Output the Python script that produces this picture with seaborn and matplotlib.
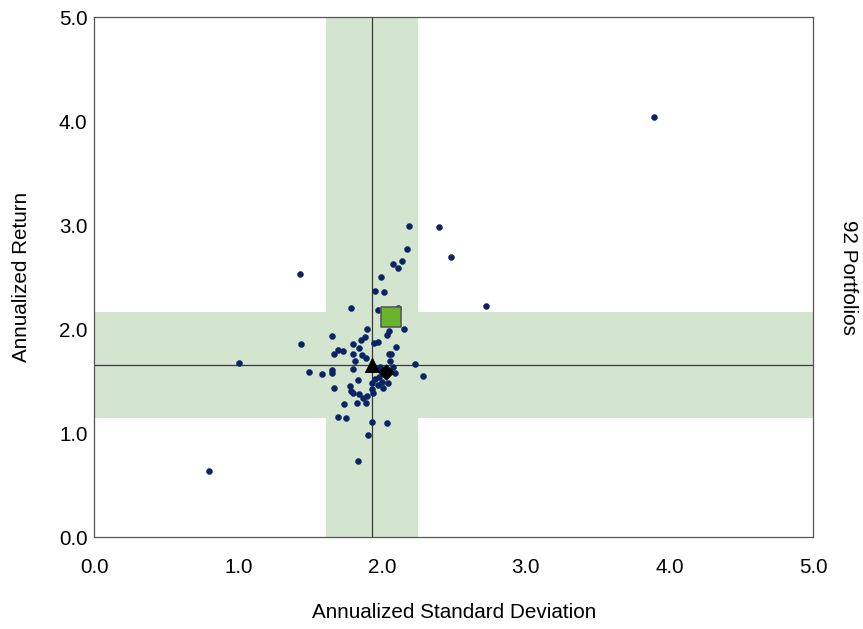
import numpy as np
import pandas as pd
import matplotlib
matplotlib.use("Agg")
import matplotlib.pyplot as plt
import seaborn as sns

# portfolio points (std dev, return)
std_dev = [3.890, 2.188, 2.399, 2.172, 2.483, 2.141, 2.074, 2.113, 1.430, 1.990,
           1.953, 2.011, 2.725, 1.785, 1.969, 2.109, 1.899, 2.046, 2.155, 2.034,
           1.655, 1.885, 1.853, 1.439, 1.797, 1.946, 1.974, 2.099, 1.839, 1.692,
           1.732, 1.667, 1.797, 1.858, 1.888, 2.048, 2.062, 1.809, 2.055, 1.008,
           2.230, 2.076, 1.799, 1.983, 1.969, 1.494, 1.585, 1.655, 1.655, 2.088,
           2.288, 1.976, 1.953, 1.927, 2.041, 1.834, 1.969, 2.009, 1.667, 1.779,
           1.932, 1.781, 1.797, 1.937, 1.837, 1.899, 1.866, 1.736, 1.827, 1.888,
           1.697, 1.750, 1.932, 2.034, 1.902, 1.834, 0.799, 1.999]
ann_return = [4.041, 2.993, 2.981, 2.772, 2.698, 2.654, 2.631, 2.586, 2.527, 2.503,
              2.371, 2.356, 2.224, 2.208, 2.183, 2.202, 2.000, 1.987, 2.003, 1.942,
              1.939, 1.926, 1.900, 1.862, 1.862, 1.871, 1.878, 1.833, 1.817, 1.798,
              1.791, 1.760, 1.760, 1.756, 1.724, 1.762, 1.762, 1.692, 1.692, 1.676,
              1.662, 1.641, 1.618, 1.641, 1.615, 1.587, 1.570, 1.609, 1.583, 1.583,
              1.554, 1.538, 1.519, 1.484, 1.487, 1.510, 1.462, 1.433, 1.439, 1.452,
              1.426, 1.407, 1.385, 1.391, 1.378, 1.356, 1.337, 1.279, 1.291, 1.291,
              1.160, 1.150, 1.109, 1.099, 0.981, 0.731, 0.638, 1.490]

# highlighted markers
avg_pt = (1.93, 1.66)       # triangle
median_pt = (2.03, 1.59)    # diamond
fund_pt = (2.062, 2.115)    # green square

# shaded bands and reference lines
x_band = (1.608, 2.253)
y_band = (1.147, 2.166)
x_line = 1.932
y_line = 1.66

df = pd.DataFrame({"sd": std_dev, "ret": ann_return})

sns.set_style("white")
plt.rcParams['font.family'] = ['Liberation Sans', 'DejaVu Sans']
plt.rcParams['text.color'] = 'black'
plt.rcParams['axes.labelcolor'] = 'black'

fig = plt.figure(figsize=(8.63, 6.29), dpi=100)
ax = fig.add_axes([0.1095, 0.1458, 0.8329, 0.8267])

band_col = "#d4e5cf"
ax.axvspan(x_band[0], x_band[1], color=band_col, lw=0, zorder=0)
ax.axhspan(y_band[0], y_band[1], color=band_col, lw=0, zorder=0)
ax.axvline(x_line, color="#3a3a3a", lw=0.9, zorder=1)
ax.axhline(y_line, color="#3a3a3a", lw=0.9, zorder=1)

sns.scatterplot(data=df, x="sd", y="ret", ax=ax, color="#0a2463", s=19,
                edgecolor="#0a2463", linewidth=0.3, zorder=3)
sns.scatterplot(x=[avg_pt[0]], y=[avg_pt[1]], ax=ax, marker="^", s=100,
                color="black", edgecolor="black", zorder=4)
sns.scatterplot(x=[median_pt[0]], y=[median_pt[1]], ax=ax, marker="D", s=60,
                color="black", edgecolor="black", zorder=4)
sns.scatterplot(x=[fund_pt[0]], y=[fund_pt[1]], ax=ax, marker="s", s=215,
                color="#6ab42c", edgecolor="#5a5a5a", linewidth=1.2, zorder=5)

ax.set_xlim(0, 5)
ax.set_ylim(0, 5)
ticks = [0.0, 1.0, 2.0, 3.0, 4.0, 5.0]
ax.set_xticks(ticks)
ax.set_yticks(ticks)
ax.set_xticklabels([f"{t:.1f}" for t in ticks])
ax.set_yticklabels([f"{t:.1f}" for t in ticks])
ax.tick_params(axis="both", direction="in", length=4, width=0.8, color="#777777",
               labelsize=14.8, labelcolor="black")
ax.tick_params(axis="x", pad=15)
ax.tick_params(axis="y", pad=5)

for sp in ax.spines.values():
    sp.set_color("#555555")
    sp.set_linewidth(0.9)

ax.set_xlabel("Annualized Standard Deviation", fontsize=14.9, color="black")
ax.set_ylabel("Annualized Return", fontsize=14.9, color="black")
ax.xaxis.set_label_coords(0.5, -0.1437)
ax.xaxis.label.set_va("center")
ax.yaxis.set_label_coords(-0.101, 0.5)
ax.yaxis.label.set_va("center")

fig.text(848 / 863, 1 - 277 / 629, "92 Portfolios", rotation=270, fontsize=14.9,
         ha="center", va="center", color="black")

fig.savefig("out.png", dpi=100)
